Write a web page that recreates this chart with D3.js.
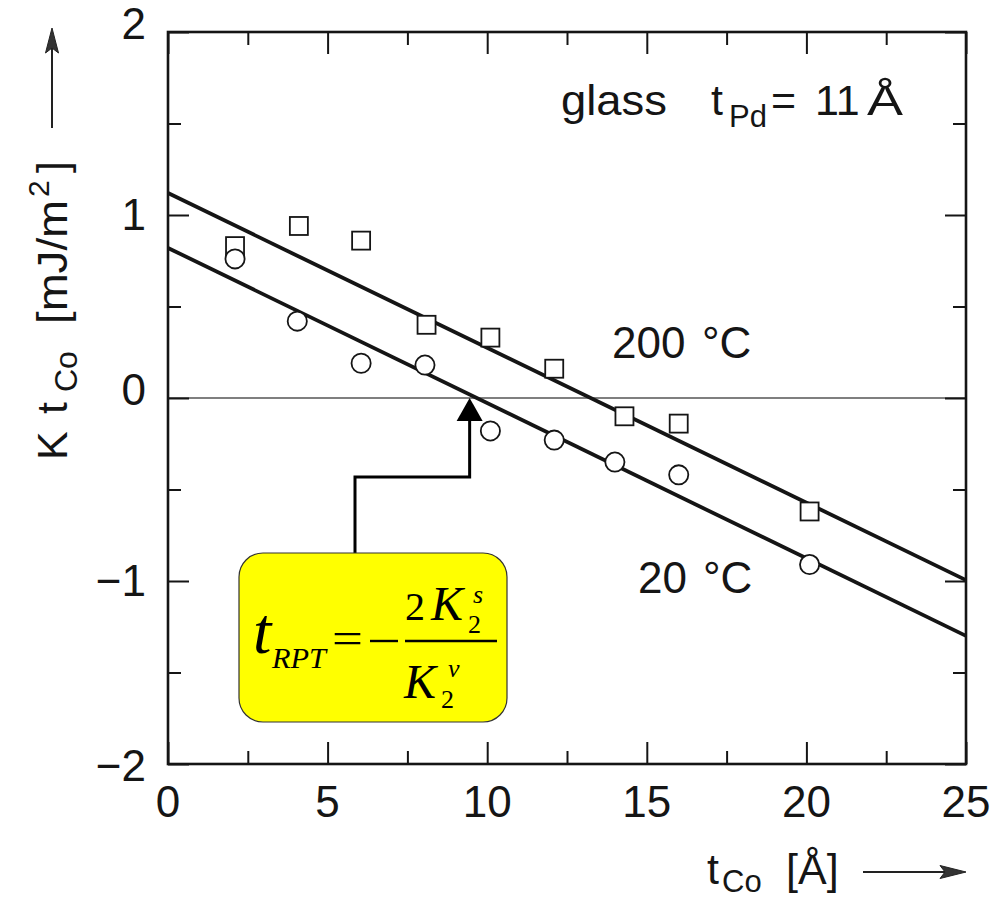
<!DOCTYPE html>
<html><head><meta charset="utf-8">
<script src="https://cdn.jsdelivr.net/npm/d3@7"></script>
<style>body{margin:0;background:#fff}</style>
</head><body>
<svg id="c" width="1007" height="900"></svg>
<script>
// ---- data ----
const sq200x = [2.1, 4.1, 6.05, 8.1, 10.1, 12.1, 14.3, 16.0, 20.1];
const sq200y = [0.83, 0.94, 0.86, 0.40, 0.33, 0.16, -0.10, -0.14, -0.62];
const ci20x  = [2.1, 4.05, 6.05, 8.05, 10.1, 12.1, 14.0, 16.0, 20.1];
const ci20y  = [0.76, 0.42, 0.19, 0.18, -0.18, -0.23, -0.35, -0.42, -0.91];
const fit200 = [[0, 1.12], [25, -0.995]];
const fit20  = [[0, 0.82], [25, -1.30]];
const xTicks = [0, 5, 10, 15, 20, 25];
const yTicks = [-2, -1, 0, 1, 2];
const xMinor = [2.5, 7.5, 12.5, 17.5, 22.5];
const yMinor = [-1.5, -0.5, 0.5, 1.5];
const rptX = 9.45;

const svg = d3.select('#c');
const L = 168, R = 966, T = 32, B = 764;
const x = d3.scaleLinear().domain([0, 25]).range([L, R]);
const y = d3.scaleLinear().domain([-2, 2]).range([B, T]);
const FONT = 'Liberation Sans, Arial, sans-serif';
const SERIF = 'Liberation Serif, Times New Roman, serif';
const INK = '#151515';

// zero line
svg.append('line').attr('x1', x(0)).attr('x2', x(25)).attr('y1', y(0)).attr('y2', y(0))
  .attr('stroke', '#555').attr('stroke-width', 1.6);

// fit lines
const line = d3.line().x(d => x(d[0])).y(d => y(d[1]));
[fit200, fit20].forEach(f => svg.append('path').attr('d', line(f))
  .attr('fill', 'none').attr('stroke', INK).attr('stroke-width', 3.8));

// frame
svg.append('rect').attr('x', L).attr('y', T).attr('width', R - L).attr('height', B - T)
  .attr('fill', 'none').attr('stroke', INK).attr('stroke-width', 2.6);

// axes with inward ticks
const gs = [
  svg.append('g').attr('transform', `translate(0,${B})`).call(d3.axisTop(x).tickValues(xTicks).tickSize(22).tickFormat('')),
  svg.append('g').attr('transform', `translate(0,${B})`).call(d3.axisTop(x).tickValues(xMinor).tickSize(13).tickFormat('')),
  svg.append('g').attr('transform', `translate(0,${T})`).call(d3.axisBottom(x).tickValues(xTicks).tickSize(22).tickFormat('')),
  svg.append('g').attr('transform', `translate(0,${T})`).call(d3.axisBottom(x).tickValues(xMinor).tickSize(13).tickFormat('')),
  svg.append('g').attr('transform', `translate(${L},0)`).call(d3.axisRight(y).tickValues(yTicks).tickSize(21).tickFormat('')),
  svg.append('g').attr('transform', `translate(${L},0)`).call(d3.axisRight(y).tickValues(yMinor).tickSize(13).tickFormat('')),
  svg.append('g').attr('transform', `translate(${R},0)`).call(d3.axisLeft(y).tickValues(yTicks).tickSize(21).tickFormat('')),
  svg.append('g').attr('transform', `translate(${R},0)`).call(d3.axisLeft(y).tickValues(yMinor).tickSize(13).tickFormat(''))
];
gs.forEach(g => {
  g.select('.domain').remove();
  g.selectAll('line').attr('stroke', INK).attr('stroke-width', 2);
});

// tick labels
svg.append('g').selectAll('text').data(xTicks).join('text')
  .attr('x', d => x(d)).attr('y', 817).attr('text-anchor', 'middle')
  .attr('font-family', FONT).attr('font-size', 44).attr('fill', INK)
  .text(d => d);
svg.append('g').selectAll('text').data(yTicks).join('text')
  .attr('x', 146).attr('y', d => y(d) + 15 + (d === 2 ? -8 : d === 0 ? -8 : d === -2 ? 2 : 0))
  .attr('text-anchor', 'end')
  .attr('font-family', FONT).attr('font-size', 44).attr('fill', INK)
  .text(d => d < 0 ? '\u2212' + Math.abs(d) : d);

// markers
svg.append('g').selectAll('rect').data(sq200x.map((v, i) => [v, sq200y[i]])).join('rect')
  .attr('x', d => x(d[0]) - 9).attr('y', d => y(d[1]) - 9).attr('width', 18).attr('height', 18)
  .attr('fill', '#fff').attr('stroke', INK).attr('stroke-width', 1.8);
svg.append('g').selectAll('circle').data(ci20x.map((v, i) => [v, ci20y[i]])).join('circle')
  .attr('cx', d => x(d[0])).attr('cy', d => y(d[1])).attr('r', 9.6)
  .attr('fill', '#fff').attr('stroke', INK).attr('stroke-width', 1.8);

// generic text helper
const txt = (tx, ty, s, size, opts = {}) => {
  const t = svg.append('text').attr('x', tx).attr('y', ty)
    .attr('font-family', opts.serif ? SERIF : FONT).attr('font-size', size)
    .attr('font-style', opts.italic ? 'italic' : 'normal')
    .attr('fill', opts.fill || INK).text(s);
  if (opts.len) t.attr('textLength', opts.len).attr('lengthAdjust', 'spacingAndGlyphs');
  if (opts.anchor) t.attr('text-anchor', opts.anchor);
  return t;
};

// series labels
txt(612, 358, '200', 44);
txt(702, 358, '\u00B0C', 44);
txt(638, 593, '20', 44);
txt(703, 593, '\u00B0C', 44);

// glass label
txt(561, 115, 'glass', 43, { len: 106 });
txt(711, 115, 't', 43);
txt(729, 127, 'Pd', 31);
txt(771, 115, '=', 43);
txt(815, 115, '11', 43);
txt(867, 115, '\u00C5', 43, { len: 36 });

// y axis title (rotated, positions along the text direction)
const yt = svg.append('g').attr('transform', 'translate(67,462) rotate(-90)');
const ytx = (tx, ty, s, size, len) => {
  const t = yt.append('text').attr('x', tx).attr('y', ty)
    .attr('font-family', FONT).attr('font-size', size).attr('fill', INK).text(s);
  if (len) t.attr('textLength', len).attr('lengthAdjust', 'spacingAndGlyphs');
};
ytx(2, 0, 'K', 43);
ytx(48, 0, 't', 43);
ytx(70, 10, 'Co', 32);
ytx(138, 0, '[mJ/m', 43, 124);
ytx(265, -18, '2', 30);
ytx(289, 0, ']', 43);
// y arrow
svg.append('line').attr('x1', 52).attr('x2', 52).attr('y1', 128).attr('y2', 40)
  .attr('stroke', '#222').attr('stroke-width', 2);
svg.append('path').attr('d', 'M52,28 L45.5,53 L52,48 L58.5,53 Z').attr('fill', '#333').attr('stroke', '#222');

// x axis title
txt(707, 884, 't', 43);
txt(722, 892, 'Co', 31);
txt(786, 884, '[\u00C5]', 43);
svg.append('line').attr('x1', 863).attr('x2', 952).attr('y1', 872).attr('y2', 872)
  .attr('stroke', '#222').attr('stroke-width', 2);
svg.append('path').attr('d', 'M966,872 L940,865.5 L945,872 L940,878.5 Z').attr('fill', '#333').attr('stroke', '#222');

// annotation: callout arrow
const ax = x(rptX), ay = y(0);
svg.append('path').attr('d', `M355,553 L355,477 L${ax},477 L${ax},${ay + 20}`)
  .attr('fill', 'none').attr('stroke', '#000').attr('stroke-width', 3);
svg.append('path').attr('d', `M${ax},${ay} L${ax - 13},${ay + 23} L${ax + 13},${ay + 23} Z`).attr('fill', '#000');

// formula box
svg.append('rect').attr('x', 239).attr('y', 553).attr('width', 268).attr('height', 169)
  .attr('rx', 24).attr('fill', '#ffff00').attr('stroke', '#333').attr('stroke-width', 1.2);
txt(253, 653, 't', 66, { serif: true, italic: true, fill: '#000' });
txt(272, 668, 'RPT', 29, { serif: true, italic: true, fill: '#000', len: 54 });
txt(332, 653, '=', 44, { serif: true, fill: '#000', len: 31 });
svg.append('line').attr('x1', 370).attr('x2', 398).attr('y1', 641).attr('y2', 641).attr('stroke', '#000').attr('stroke-width', 2.4);
svg.append('line').attr('x1', 405).attr('x2', 497).attr('y1', 641).attr('y2', 641).attr('stroke', '#000').attr('stroke-width', 2.6);
txt(405, 620, '2', 40, { serif: true, fill: '#000' });
txt(431, 620, 'K', 48, { serif: true, italic: true, fill: '#000' });
txt(473, 603, 's', 26, { serif: true, italic: true, fill: '#000' });
txt(468, 633, '2', 26, { serif: true, fill: '#000' });
txt(404, 698, 'K', 48, { serif: true, italic: true, fill: '#000' });
txt(448, 677, 'v', 26, { serif: true, italic: true, fill: '#000' });
txt(441, 708, '2', 26, { serif: true, fill: '#000' });
</script>
</body></html>
